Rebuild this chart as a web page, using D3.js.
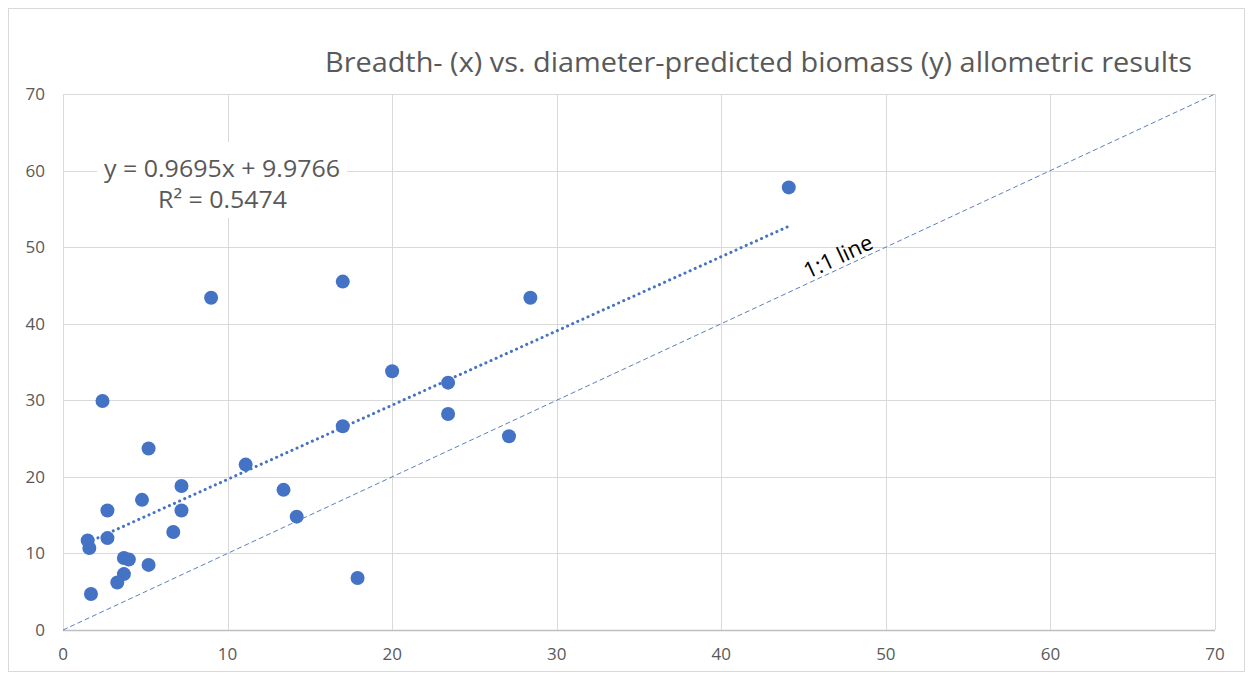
<!DOCTYPE html>
<html>
<head>
<meta charset="utf-8">
<script src="https://cdn.jsdelivr.net/npm/d3@7"></script>
<style>
  body { margin: 0; background: #fff; }
  svg text { font-family: "Open Sans", "Liberation Sans", sans-serif; }
</style>
</head>
<body>
<div id="chart"></div>
<script>
// Data
let xVals = [1.5, 1.6, 1.7, 2.7, 2.7, 2.4, 4.8, 7.2, 7.2, 6.7, 3.7, 4.0, 5.2, 3.7, 3.3,
             5.2, 11.1, 13.4, 14.2, 17.9, 17.0, 17.0, 9.0, 20.0, 23.4, 23.4, 27.1, 28.4, 44.1];
let yVals = [11.7, 10.7, 4.7, 15.6, 12.0, 29.9, 17.0, 18.8, 15.6, 12.8, 9.4, 9.2, 8.5, 7.3, 6.2,
             23.7, 21.6, 18.3, 14.8, 6.8, 26.6, 45.5, 43.4, 33.8, 32.3, 28.2, 25.3, 43.4, 57.8];
let xTicks = [0, 10, 20, 30, 40, 50, 60, 70];
let yTicks = [0, 10, 20, 30, 40, 50, 60, 70];
let slope = 0.9695, intercept = 9.9766;
let chartTitle = "Breadth- (x) vs. diameter-predicted biomass (y) allometric results";

let W = 1253, H = 679;
let margin = {top: 94, right: 38, bottom: 49, left: 63};
let width = W - margin.left - margin.right,
    height = H - margin.top - margin.bottom;

let x = d3.scaleLinear().domain([0, 70]).range([0, width]);
let y = d3.scaleLinear().domain([0, 70]).range([height, 0]);

let svgRoot = d3.select("#chart").append("svg")
    .attr("width", W)
    .attr("height", H);

// chart border
svgRoot.append("rect")
    .attr("x", 8.5).attr("y", 8.5)
    .attr("width", W - 17).attr("height", H - 16)
    .attr("fill", "#fff")
    .attr("stroke", "#d9d9d9");

// title
svgRoot.append("text")
    .attr("x", 325).attr("y", 72)
    .attr("textLength", 867)
    .attr("lengthAdjust", "spacingAndGlyphs")
    .style("font-size", "27px")
    .style("fill", "#595959")
    .text(chartTitle);

let svg = svgRoot.append("g")
    .attr("transform", "translate(" + margin.left + "," + margin.top + ")");

// gridlines
svg.selectAll(".hgrid")
    .data(yTicks)
    .enter().append("line")
    .attr("x1", 0).attr("x2", width)
    .attr("y1", function(d) { return Math.round(y(d)) + 0.5; })
    .attr("y2", function(d) { return Math.round(y(d)) + 0.5; })
    .attr("stroke", function(d) { return d === 0 ? "#bfbfbf" : "#d9d9d9"; })
    .attr("stroke-width", function(d) { return d === 0 ? 1.5 : 1; });

svg.selectAll(".vgrid")
    .data(xTicks)
    .enter().append("line")
    .attr("y1", 0).attr("y2", height)
    .attr("x1", function(d) { return Math.round(x(d)) + 0.5; })
    .attr("x2", function(d) { return Math.round(x(d)) + 0.5; })
    .attr("stroke", "#d9d9d9");

// axis labels
svg.selectAll(".ylab")
    .data(yTicks)
    .enter().append("text")
    .attr("x", -18)
    .attr("y", function(d) { return y(d); })
    .attr("dy", "0.35em")
    .attr("text-anchor", "end")
    .style("font-size", "17px")
    .style("fill", "#595959")
    .text(function(d) { return d; });

svg.selectAll(".xlab")
    .data(xTicks)
    .enter().append("text")
    .attr("x", function(d) { return x(d); })
    .attr("y", height + 30)
    .attr("text-anchor", "middle")
    .style("font-size", "17px")
    .style("fill", "#595959")
    .text(function(d) { return d; });

// 1:1 line
svg.append("line")
    .attr("x1", x(0)).attr("y1", y(0))
    .attr("x2", x(70)).attr("y2", y(70))
    .attr("stroke", "#5b7fbd")
    .attr("stroke-width", 1)
    .attr("stroke-dasharray", "5,3");

// label along 1:1 line
let angle = Math.atan2(y(0) - y(70), x(70) - x(0)) * 180 / Math.PI;
svg.append("text")
    .attr("transform", "translate(" + x(47.4) + "," + y(47.4) + ") rotate(" + (-angle) + ")")
    .attr("dy", -4)
    .attr("text-anchor", "middle")
    .style("font-size", "22px")
    .style("fill", "#000")
    .text("1:1 line");

// trendline
let xMin = d3.min(xVals), xMax = d3.max(xVals);
svg.append("line")
    .attr("x1", x(xMin)).attr("y1", y(slope * xMin + intercept))
    .attr("x2", x(xMax)).attr("y2", y(slope * xMax + intercept))
    .attr("stroke", "#4472c4")
    .attr("stroke-width", 3)
    .attr("stroke-linecap", "round")
    .attr("stroke-dasharray", "0.1,5.5");

// points
svg.selectAll(".dot")
    .data(xVals)
    .enter().append("circle")
    .attr("cx", function(d) { return x(d); })
    .attr("cy", function(d, i) { return y(yVals[i]); })
    .attr("r", 7)
    .style("fill", "#4472c4");

// equation box
let eq = svgRoot.append("g");
eq.append("rect")
    .attr("x", 97).attr("y", 142)
    .attr("width", 250).attr("height", 76)
    .attr("fill", "#fff");
eq.append("text")
    .attr("x", 104).attr("y", 177)
    .attr("textLength", 236)
    .attr("lengthAdjust", "spacingAndGlyphs")
    .style("font-size", "24px")
    .style("fill", "#595959")
    .text("y = " + slope + "x + " + intercept);
eq.append("text")
    .attr("x", 158).attr("y", 208)
    .attr("textLength", 129)
    .attr("lengthAdjust", "spacingAndGlyphs")
    .style("font-size", "24px")
    .style("fill", "#595959")
    .text("R² = 0.5474");
</script>
</body>
</html>
